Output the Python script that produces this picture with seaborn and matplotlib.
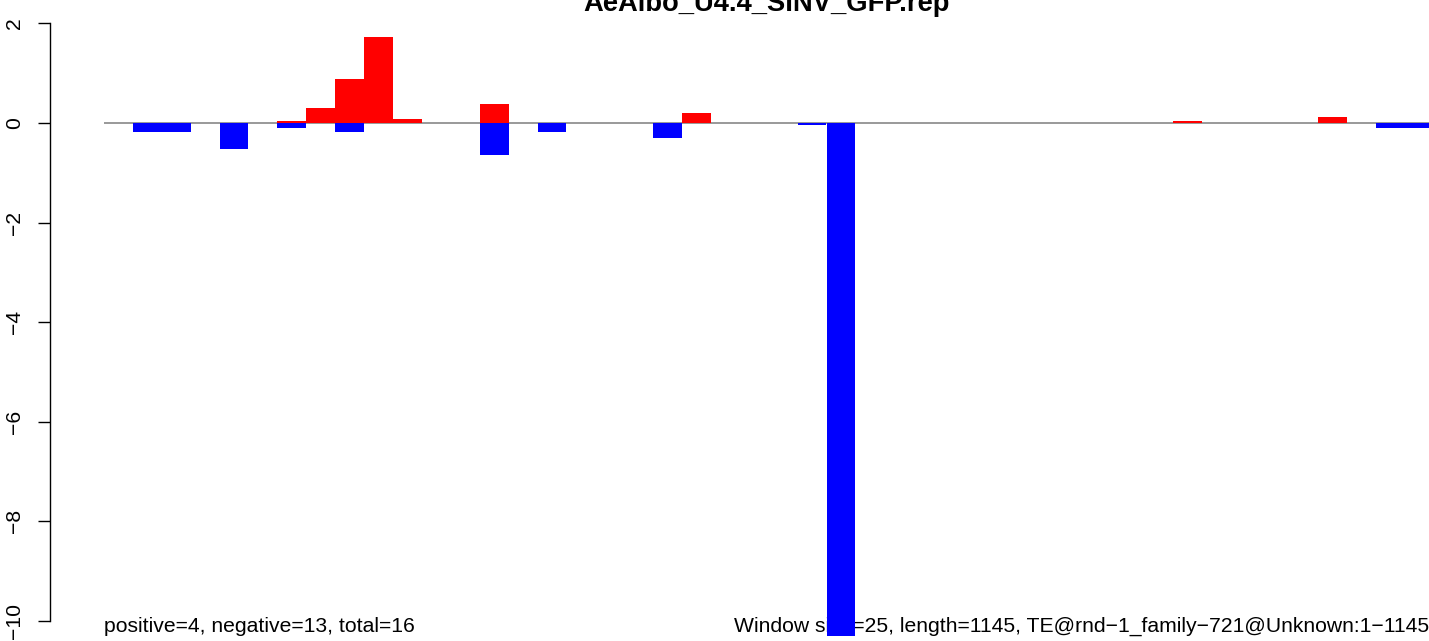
import matplotlib
matplotlib.use("Agg")
import matplotlib.pyplot as plt
import seaborn as sns
import numpy as np
import pandas as pd

sns.set_theme(style="white")
plt.rcParams['font.family'] = ['Liberation Sans', 'DejaVu Sans']
plt.rcParams['text.color'] = 'black'
plt.rcParams['ytick.color'] = 'black'

title = "AeAlbo_U4.4_SINV_GFP.rep"
left_note = "positive=4, negative=13, total=16"
right_note = "Window size=25, length=1145, TE@rnd\u22121_family\u2212721@Unknown:1\u22121145"

windows = list(range(46))
positive = [0, 0, 0, 0, 0, 0, 0.05, 0.31, 0.89, 1.73,
            0.09, 0, 0, 0.38, 0, 0, 0, 0, 0, 0,
            0.20, 0, 0, 0, 0, 0, 0, 0, 0, 0,
            0, 0, 0, 0, 0, 0, 0, 0.04, 0, 0,
            0, 0, 0.12, 0, 0, 0]
negative = [0, -0.18, -0.18, 0, -0.52, 0, -0.10, 0, -0.18, 0,
            0, 0, 0, -0.64, 0, -0.18, 0, 0, 0, -0.30,
            0, 0, 0, 0, -0.05, -10.3, 0, 0, 0, 0,
            0, 0, 0, 0, 0, 0, 0, 0, 0, 0,
            0, 0, 0, 0, -0.10, -0.10]
yticks = [2, 0, -2, -4, -6, -8, -10]
ytick_labels = ["2", "0", "\u22122", "\u22124", "\u22126", "\u22128", "\u221210"]

W, H = 1429, 641
fig = plt.figure(figsize=(W / 100, H / 100), dpi=100)
ax = fig.add_axes([0, 0, 1, 1])

df = pd.DataFrame({"w": windows, "pos": positive, "neg": negative})
sns.barplot(data=df, x="w", y="pos", color="#FF0000", saturation=1, width=1,
            linewidth=0, ax=ax, zorder=3)
sns.barplot(data=df, x="w", y="neg", color="#0000FF", saturation=1, width=1,
            linewidth=0, ax=ax, zorder=3)

# pixel mapping
x0px, wpx = 104, 28.9
y0px, ypx = 123, 49.8
def px2x(p):
    return (p - x0px) / wpx - 0.5
ax.set_xlim(px2x(0), px2x(W))
ax.set_ylim(-(H - y0px) / ypx, y0px / ypx)

ax.hlines(0, -0.5, len(windows) - 0.5, color="#888888", linewidth=1.2, zorder=2)

for s in ["top", "right", "bottom"]:
    ax.spines[s].set_visible(False)
ax.spines["left"].set_position(("data", px2x(50)))
ax.spines["left"].set_bounds(-10, 2)
ax.spines["left"].set_color("black")
ax.spines["left"].set_linewidth(1.0)
ax.set_xticks([])
ax.set_yticks(yticks)
ax.set_yticklabels(ytick_labels, rotation=90, va="center", fontsize=15.2, color="black")
ax.tick_params(axis="y", left=True, length=8.6, width=1.0, pad=10, color="black")
ax.set_xlabel("")
ax.set_ylabel("")

ax.text(766 / W, 1 - 11 / H, title, ha="center", va="baseline",
        fontsize=19.7, fontweight="bold", transform=fig.transFigure,
        zorder=1, clip_on=False, color="black")
ax.text(104 / W, 1 - 632 / H, left_note, ha="left", va="baseline", fontsize=15.2,
        transform=fig.transFigure, zorder=1, clip_on=False, color="black")
ax.text(1429 / W, 1 - 632 / H, right_note, ha="right", va="baseline", fontsize=15.2,
        transform=fig.transFigure, zorder=1, clip_on=False, color="black")

fig.savefig("out.png", dpi=100)
